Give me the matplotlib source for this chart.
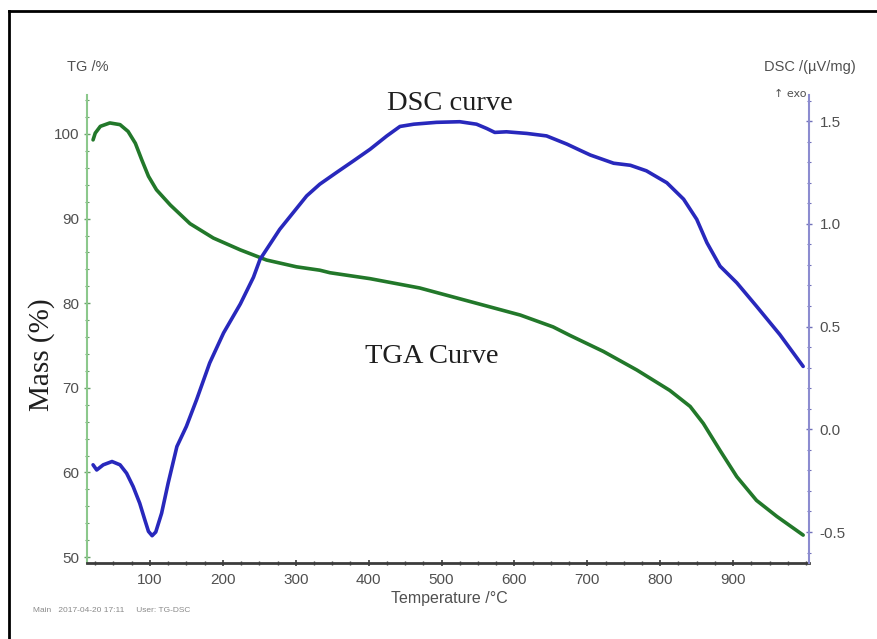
import matplotlib
matplotlib.use("Agg")
import matplotlib.pyplot as plt
from matplotlib.lines import Line2D
from matplotlib.ticker import MultipleLocator, FormatStrFormatter

plt.rcParams['axes.unicode_minus'] = False
plt.rcParams['font.family'] = ['Liberation Sans', 'DejaVu Sans']

# TGA trace: temperature (°C) vs mass (%)
tga_temp = [22, 25, 32, 45, 59, 70, 80, 89, 98, 109, 128, 155, 187, 224,
            260, 301, 333, 347, 402, 470, 539, 608, 653, 676, 722, 768, 813,
            841, 859, 882, 905, 932, 960, 996]
tga_mass = [99.3, 100.1, 100.9, 101.3, 101.1, 100.3, 98.9, 96.9, 95.0, 93.4,
            91.6, 89.4, 87.7, 86.3, 85.1, 84.3, 83.9, 83.6, 82.9, 81.8, 80.2,
            78.6, 77.2, 76.2, 74.3, 72.1, 69.7, 67.8, 65.8, 62.6, 59.5, 56.7,
            54.8, 52.6]

# DSC trace: temperature (°C) vs heat flow (µV/mg)
dsc_temp = [22, 27, 36, 48, 59, 68, 77, 86, 93, 98, 103, 108, 116, 125, 137,
            150, 164, 182, 201, 224, 242, 251, 278, 315, 333, 356, 379, 402,
            425, 443, 462, 493, 525, 548, 562, 573, 589, 617, 644, 672, 690,
            704, 736, 759, 781, 809, 832, 850, 864, 882, 905, 932, 964, 996]
dsc_flow = [-0.173, -0.198, -0.173, -0.157, -0.173, -0.214, -0.279, -0.36,
            -0.441, -0.497, -0.518, -0.5, -0.409, -0.262, -0.084, 0.014,
            0.144, 0.323, 0.469, 0.61, 0.74, 0.827, 0.973, 1.136, 1.193,
            1.25, 1.306, 1.363, 1.428, 1.474, 1.485, 1.494, 1.497, 1.485,
            1.464, 1.445, 1.448, 1.44, 1.428, 1.388, 1.358, 1.335, 1.295,
            1.285, 1.258, 1.2, 1.12, 1.022, 0.908, 0.794, 0.713, 0.599, 0.461,
            0.306]

x_ticks = [100, 200, 300, 400, 500, 600, 700, 800, 900]
tg_ticks = [50, 60, 70, 80, 90, 100]
dsc_ticks = [-0.5, 0.0, 0.5, 1.0, 1.5]

GREEN = '#22782a'
BLUE = '#2828bc'
LABEL_GRAY = '#505050'

fig = plt.figure(figsize=(8.78, 6.39), dpi=100)
fig.patch.set_facecolor('white')

ax = fig.add_axes([0.0991, 0.1189, 0.8223, 0.7324])
ax2 = ax.twinx()

ax.plot(tga_temp, tga_mass, color=GREEN, lw=2.6, solid_capstyle='round',
        solid_joinstyle='round')
ax2.plot(dsc_temp, dsc_flow, color=BLUE, lw=2.6, solid_capstyle='round',
         solid_joinstyle='round')

ax.set_xlim(13.7, 1004)
ax.set_ylim(49.3, 104.6)
ax2.set_ylim(-0.651, 1.627)

ax.set_xticks(x_ticks)
ax.set_yticks(tg_ticks)
ax2.set_yticks(dsc_ticks)
ax2.yaxis.set_major_formatter(FormatStrFormatter('%.1f'))
ax.xaxis.set_minor_locator(MultipleLocator(25))
ax.yaxis.set_minor_locator(MultipleLocator(2))
ax2.yaxis.set_minor_locator(MultipleLocator(0.1))

for a in (ax, ax2):
    a.spines['top'].set_visible(False)
ax.spines['right'].set_visible(False)
ax2.spines['left'].set_visible(False)
ax2.spines['bottom'].set_visible(False)
ax.spines['left'].set_color('#8cc88c')
ax.spines['left'].set_linewidth(1.5)
ax2.spines['right'].set_color('#8c8cd0')
ax2.spines['right'].set_linewidth(1.5)
ax.spines['bottom'].set_color('#3c3c3c')
ax.spines['bottom'].set_linewidth(2)

ax.tick_params(axis='x', which='major', direction='inout', length=5, width=1.2,
               color='#3c3c3c', labelsize=11, labelcolor=LABEL_GRAY, pad=5)
ax.tick_params(axis='x', which='minor', direction='inout', length=3, width=1,
               color='#3c3c3c')
ax.tick_params(axis='y', which='major', direction='inout', length=5, width=1,
               color='#6aa06a', labelsize=11, labelcolor=LABEL_GRAY, pad=3)
ax.tick_params(axis='y', which='minor', direction='inout', length=3, width=0.8,
               color='#6aa06a')
ax2.tick_params(axis='y', which='major', direction='inout', length=5, width=1,
                color='#7070b8', labelsize=11, labelcolor=LABEL_GRAY, pad=5)
ax2.tick_params(axis='y', which='minor', direction='inout', length=3, width=0.8,
                color='#7070b8')

# axis captions in the instrument style
fig.text(88 / 878, 1 - 67 / 639, 'TG /%', ha='center', va='center',
         fontsize=10.5, color=LABEL_GRAY)
fig.text(810 / 878, 1 - 67 / 639, 'DSC /(µV/mg)', ha='center', va='center',
         fontsize=10.5, color=LABEL_GRAY)
fig.text(807 / 878, 1 - 94 / 639, '↑ exo', ha='right', va='center',
         fontsize=8, color=LABEL_GRAY, family=['DejaVu Sans'])
fig.text(449 / 878, 1 - 598 / 639, 'Temperature /°C', ha='center', va='center',
         fontsize=11.5, color=LABEL_GRAY)
fig.text(33 / 878, 1 - 611 / 639, 'Main   2017-04-20 17:11     User: TG-DSC',
         ha='left', va='center', fontsize=6, color='#8a8a8a')

# serif annotations
serif = ['Liberation Serif', 'DejaVu Serif']
fig.text(42 / 878, 1 - 355 / 639, 'Mass (%)', rotation=90, ha='center',
         va='center', fontsize=21, color='#1e1e1e', family=serif)
fig.text(450 / 878, 1 - 103 / 639, 'DSC curve', ha='center', va='center',
         fontsize=20.5, color='#1e1e1e', family=serif)
fig.text(432 / 878, 1 - 356 / 639, 'TGA Curve', ha='center', va='center',
         fontsize=20.5, color='#1e1e1e', family=serif)

# outer frame (left and top edges)
fig.add_artist(Line2D([8.5 / 878, 8.5 / 878], [0, 1 - 11 / 639],
                      color='black', lw=2))
fig.add_artist(Line2D([8.5 / 878, 1], [1 - 11 / 639, 1 - 11 / 639],
                      color='black', lw=2))

fig.savefig('out.png', dpi=100, facecolor='white')
